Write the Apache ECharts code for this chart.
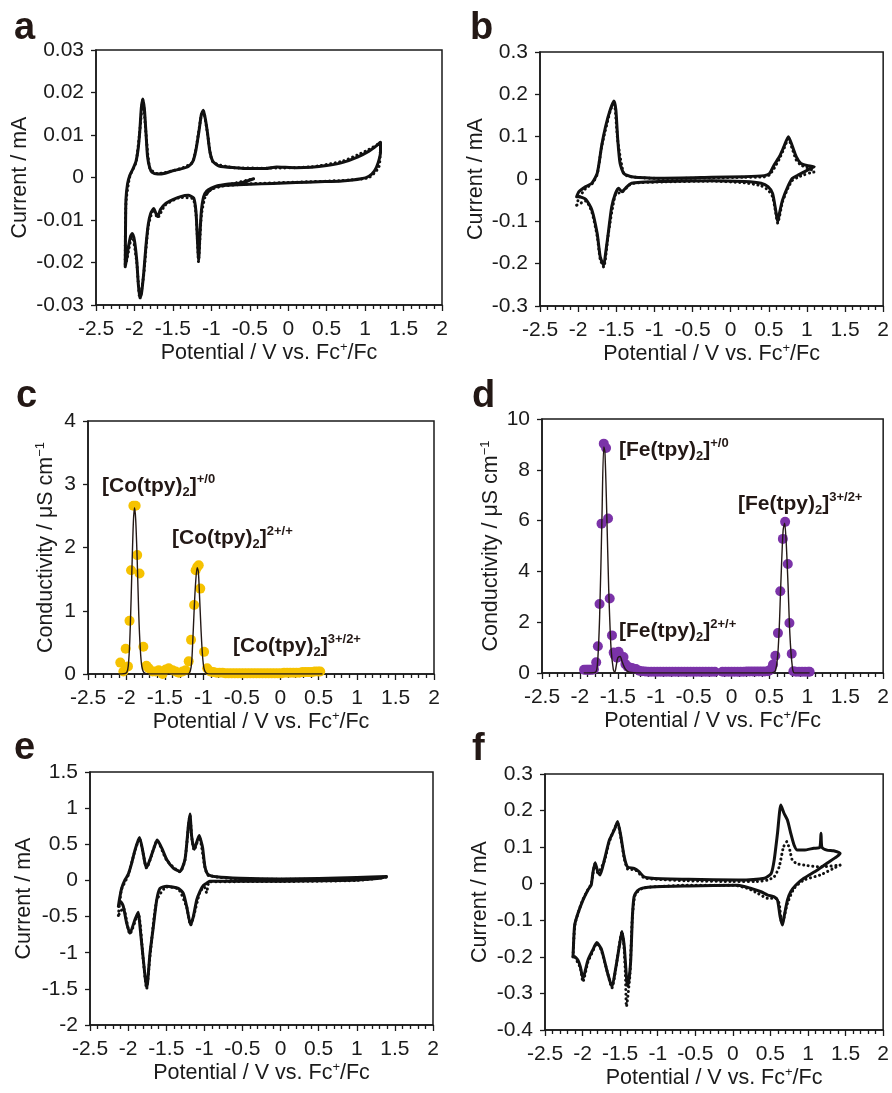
<!DOCTYPE html>
<html>
<head>
<meta charset="utf-8">
<script src="https://cdn.jsdelivr.net/npm/echarts@6.0.0/dist/echarts.min.js"></script>
<style>
html, body { margin: 0; padding: 0; background: #fff; }
#main { width: 892px; height: 1093px; }
</style>
</head>
<body>
<div id="main"></div>
<script>
// ---- data: [potential (V vs Fc+/Fc), current (mA) or conductivity (uS/cm)] ----

// a: [Co(tpy)2] CV
var cvA_solid = [[-0.45,-0.0003],[-0.6,-0.0012],[-0.8,-0.0016],[-0.93,-0.002],[-1.0,-0.0025],[-1.06,-0.0032],[-1.1,-0.0045],[-1.13,-0.008],[-1.15,-0.014],[-1.165,-0.0195],[-1.18,-0.015],[-1.2,-0.008],[-1.23,-0.0048],[-1.3,-0.0042],[-1.4,-0.0045],[-1.5,-0.0052],[-1.6,-0.0062],[-1.66,-0.0075],[-1.7,-0.0092],[-1.72,-0.0085],[-1.75,-0.0073],[-1.79,-0.0085],[-1.82,-0.011],[-1.85,-0.016],[-1.88,-0.0226],[-1.91,-0.0275],[-1.93,-0.0283],[-1.95,-0.025],[-1.97,-0.0195],[-2.0,-0.0148],[-2.03,-0.0132],[-2.05,-0.0138],[-2.08,-0.0165],[-2.1,-0.019],[-2.12,-0.021],
  [-2.115,-0.01],[-2.11,-0.005],[-2.09,-0.0015],[-2.06,0.0005],[-2.02,0.002],[-1.98,0.0038],[-1.95,0.007],[-1.93,0.011],[-1.91,0.0165],[-1.89,0.0185],[-1.87,0.016],[-1.85,0.0105],[-1.83,0.005],[-1.8,0.0022],[-1.77,0.0012],[-1.7,0.0008],[-1.6,0.001],[-1.5,0.0016],[-1.4,0.002],[-1.3,0.0026],[-1.24,0.0038],[-1.2,0.0065],[-1.16,0.011],[-1.13,0.0148],[-1.105,0.0158],[-1.08,0.014],[-1.05,0.0105],[-1.02,0.0062],[-0.98,0.0038],[-0.9,0.0027],[-0.7,0.0023],[-0.5,0.0021],[-0.3,0.0021],[-0.15,0.0025],[-0.05,0.0024],[0.1,0.0023],[0.3,0.0024],[0.5,0.0028],[0.7,0.0035],[0.9,0.0048],[1.05,0.0062],[1.15,0.0075],[1.2,0.0083],
  [1.2,0.006],[1.17,0.0035],[1.12,0.0015],[1.05,0.0003],[0.95,-0.0003],[0.7,-0.0008],[0.4,-0.001],[0.1,-0.0012],[-0.2,-0.0014],[-0.5,-0.0016],[-0.8,-0.0018],[-0.95,-0.0022],[-1.02,-0.003],[-1.07,-0.004]]
var cvA_dotted = [[-0.5,-0.0005],[-0.8,-0.0018],[-1.0,-0.0028],[-1.08,-0.0045],[-1.13,-0.009],[-1.15,-0.015],[-1.167,-0.0198],[-1.18,-0.015],[-1.2,-0.0085],[-1.24,-0.005],[-1.4,-0.0047],[-1.6,-0.0065],[-1.7,-0.0095],[-1.75,-0.0075],[-1.82,-0.0115],[-1.88,-0.023],[-1.93,-0.0285],[-1.97,-0.02],[-2.03,-0.0135],[-2.1,-0.0195],[-2.12,-0.0205],[-2.11,-0.006],[-2.06,0.0003],[-1.98,0.0036],[-1.93,0.011],[-1.89,0.0183],[-1.85,0.0103],[-1.8,0.0022],[-1.7,0.0009],[-1.4,0.0021],[-1.24,0.0037],[-1.13,0.0147],[-1.105,0.0157],[-1.05,0.0104],[-0.98,0.0037],[-0.7,0.0023],[-0.3,0.0022],[0.3,0.0025],[0.7,0.0038],[0.9,0.0053],[1.05,0.0066],[1.2,0.0082],[1.18,0.0025],[1.05,0.0],[0.7,-0.0007],[0.1,-0.0011],[-0.5,-0.0015],[-0.95,-0.0021]]

// b: [Fe(tpy)2] CV
var cvB_solid = [[-2.02,-0.042],[-1.99,-0.03],[-1.9,-0.018],[-1.82,-0.01],[-1.75,0.013],[-1.69,0.08],[-1.64,0.124],[-1.58,0.163],[-1.53,0.184],[-1.505,0.163],[-1.48,0.092],[-1.45,0.037],[-1.4,0.013],[-1.3,0.0055],[-0.9,0.002],[-0.25,0.004],[0.18,0.0055],[0.44,0.008],[0.51,0.013],[0.57,0.033],[0.64,0.053],[0.7,0.077],[0.757,0.1],[0.81,0.077],[0.86,0.053],[0.92,0.037],[1.0,0.032],[1.096,0.029],
  [1.05,0.025],[0.965,0.017],[0.88,0.009],[0.81,0.0016],[0.75,-0.018],[0.68,-0.05],[0.64,-0.081],[0.617,-0.101],[0.59,-0.073],[0.55,-0.034],[0.49,-0.018],[0.4,-0.01],[0.18,-0.006],[-0.25,-0.004],[-0.9,-0.006],[-1.3,-0.01],[-1.38,-0.022],[-1.425,-0.03],[-1.47,-0.022],[-1.51,-0.034],[-1.56,-0.066],[-1.6,-0.121],[-1.64,-0.176],[-1.665,-0.204],[-1.71,-0.184],[-1.75,-0.129],[-1.82,-0.073],[-1.9,-0.048],[-1.99,-0.042],[-2.02,-0.042]]
var cvB_dotted = [[-2.02,-0.062],[-1.99,-0.045],[-1.9,-0.022],[-1.82,-0.012],[-1.75,0.011],[-1.69,0.078],[-1.58,0.16],[-1.53,0.182],[-1.48,0.09],[-1.4,0.012],[-1.3,0.005],[-0.9,0.001],[0.18,0.004],[0.44,0.005],[0.51,0.01],[0.57,0.025],[0.64,0.048],[0.7,0.072],[0.757,0.095],[0.81,0.07],[0.86,0.045],[0.92,0.033],[1.0,0.027],[1.1,0.017],
  [1.05,0.015],[0.965,0.01],[0.88,0.004],[0.81,-0.003],[0.75,-0.022],[0.68,-0.054],[0.617,-0.104],[0.59,-0.078],[0.55,-0.042],[0.49,-0.026],[0.4,-0.016],[0.18,-0.009],[-0.25,-0.005],[-0.9,-0.007],[-1.3,-0.011],[-1.425,-0.031],[-1.51,-0.036],[-1.6,-0.125],[-1.665,-0.208],[-1.71,-0.19],[-1.75,-0.135],[-1.82,-0.078],[-1.9,-0.052],[-2.02,-0.062]]

// c: [Co(tpy)2] conductivity (points) and fitted curve
var coPoints = [[-2.08,0.18],[-2.04,0.04],[-2.01,0.40],[-1.98,0.12],[-1.96,0.84],[-1.94,1.64],[-1.91,2.66],[-1.88,2.66],[-1.86,1.88],[-1.83,1.59],[-1.78,0.43],[-1.74,0.13],[-1.71,0.09],[-1.66,0.04],[-1.62,0.04],[-1.58,0.06],[-1.53,0.00],[-1.49,0.07],[-1.45,0.09],[-1.40,0.06],[-1.36,0.04],[-1.32,0.02],[-1.27,0.04],[-1.23,0.06],[-1.19,0.20],[-1.16,0.54],[-1.12,1.09],[-1.10,1.64],[-1.08,1.69],[-1.06,1.72],[-1.04,1.35],[-0.99,0.35],[-0.95,0.09],[-0.91,0.04],
  [-0.87,0.03],[-0.83,0.02],[-0.79,0.02],[-0.75,0.02],[-0.71,0.01],[-0.67,0.01],[-0.63,0.01],[-0.59,0.01],[-0.55,0.01],[-0.51,0.01],[-0.47,0.01],[-0.43,0.01],[-0.39,0.01],[-0.35,0.01],[-0.31,0.01],[-0.27,0.01],[-0.23,0.01],[-0.19,0.01],[-0.15,0.01],[-0.11,0.01],[-0.07,0.01],[-0.03,0.01],[0.01,0.01],[0.05,0.02],[0.09,0.02],[0.13,0.02],[0.17,0.02],[0.21,0.02],[0.25,0.02],[0.29,0.03],[0.33,0.03],[0.37,0.03],[0.41,0.03],[0.45,0.04],[0.49,0.04],[0.52,0.04]]
var coFit = [[-2.1,0],[-2.0,0.02],[-1.97,0.22],[-1.95,0.75],[-1.93,1.6],[-1.91,2.4],[-1.895,2.63],[-1.88,2.45],[-1.86,1.8],[-1.84,0.95],[-1.82,0.4],[-1.8,0.12],[-1.77,0.02],[-1.7,0],[-1.2,0],[-1.16,0.1],[-1.14,0.45],[-1.12,1.0],[-1.1,1.45],[-1.08,1.68],[-1.065,1.62],[-1.05,1.25],[-1.03,0.7],[-1.01,0.28],[-0.99,0.08],[-0.96,0.01],[-0.9,0],[0.55,0]]

// d: [Fe(tpy)2] conductivity (points) and fitted curve
var fePoints = [[-1.945,0.13],[-1.92,0.13],[-1.90,0.13],[-1.88,0.13],[-1.86,0.13],[-1.835,0.13],[-1.815,0.15],[-1.785,0.42],[-1.763,1.05],[-1.741,2.72],[-1.715,5.88],[-1.685,9.03],[-1.655,8.86],[-1.629,6.08],[-1.607,2.93],[-1.577,1.48],[-1.555,0.81],[-1.54,0.7],[-1.525,0.79],[-1.51,0.6],[-1.49,0.84],[-1.475,0.7],[-1.46,0.66],[-1.425,0.63],[-1.40,0.35],[-1.37,0.25],[-1.347,0.22],[-1.32,0.2],[-1.30,0.18],[-1.26,0.16],[-1.217,0.09],[-1.18,0.07],[-1.14,0.06],
  [-1.10,0.05],[-1.06,0.05],[-1.02,0.05],[-0.98,0.05],[-0.94,0.05],[-0.90,0.05],[-0.86,0.05],[-0.82,0.05],[-0.78,0.05],[-0.74,0.05],[-0.70,0.05],[-0.66,0.05],[-0.62,0.05],[-0.58,0.05],[-0.54,0.05],[-0.50,0.05],[-0.46,0.05],[-0.42,0.05],[-0.38,0.05],[-0.34,0.05],[-0.30,0.05],[-0.26,0.05],[-0.22,0.05],
  [-0.12,0.05],[-0.08,0.05],[-0.04,0.05],[0.0,0.05],[0.04,0.05],[0.08,0.05],[0.12,0.05],[0.16,0.05],[0.20,0.06],[0.24,0.06],[0.28,0.06],[0.32,0.06],[0.36,0.06],[0.40,0.06],[0.44,0.06],[0.48,0.07],[0.50,0.1],[0.52,0.15],[0.547,0.33],[0.578,0.68],[0.612,1.57],[0.643,3.22],[0.677,5.28],[0.707,5.95],[0.742,4.29],[0.764,1.97],[0.794,0.76],[0.816,0.07],[0.85,0.05],[0.89,0.05],[0.93,0.05],[0.97,0.05],[1.01,0.05],[1.03,0.05]]
var feFit = [[-1.95,0],[-1.8,0.02],[-1.77,0.3],[-1.74,2.2],[-1.71,6.0],[-1.685,8.9],[-1.67,8.7],[-1.645,6.2],[-1.62,3.3],[-1.59,1.0],[-1.56,0.15],[-1.54,0.02],[-1.52,0.3],[-1.5,0.6],[-1.47,0.65],[-1.44,0.42],[-1.4,0.15],[-1.35,0.03],[-1.2,0],[0.5,0],[0.58,0.1],[0.62,1.2],[0.65,3.5],[0.68,5.6],[0.7,5.9],[0.72,5.2],[0.745,3.5],[0.77,1.5],[0.8,0.3],[0.83,0],[1.03,0]]

// e: mixed Co/Fe CV
var cvE_solid = [[-2.115,-0.27],[-2.085,-0.11],[-2.04,0.01],[-2.0,0.08],[-1.953,0.24],[-1.91,0.42],[-1.866,0.56],[-1.85,0.595],[-1.81,0.42],[-1.779,0.24],[-1.757,0.18],[-1.713,0.29],[-1.647,0.49],[-1.618,0.56],[-1.56,0.45],[-1.494,0.29],[-1.407,0.17],[-1.32,0.125],[-1.254,0.29],[-1.21,0.75],[-1.189,0.92],[-1.166,0.61],[-1.133,0.43],[-1.067,0.62],[-1.045,0.55],[-1.022,0.45],[-0.992,0.19],[-0.948,0.08],[-0.84,0.05],[-0.53,0.03],[0.0,0.02],[0.5,0.025],[1.0,0.04],[1.39,0.055],
  [1.3,0.03],[1.0,0.005],[0.5,-0.005],[0.0,-0.01],[-0.5,-0.01],[-0.93,-0.01],[-0.97,-0.04],[-1.013,-0.07],[-1.057,-0.15],[-1.1,-0.27],[-1.144,-0.5],[-1.18,-0.614],[-1.232,-0.36],[-1.276,-0.18],[-1.34,-0.11],[-1.494,-0.08],[-1.582,-0.11],[-1.625,-0.27],[-1.669,-0.64],[-1.713,-1.01],[-1.745,-1.42],[-1.757,-1.47],[-1.8,-1.1],[-1.844,-0.64],[-1.867,-0.44],[-1.91,-0.54],[-1.976,-0.73],[-2.019,-0.59],[-2.063,-0.36],[-2.098,-0.29],[-2.128,-0.36],[-2.115,-0.27]]
var cvE_dotted = [[-2.128,-0.485],[-2.11,-0.3],[-2.085,-0.12],[-2.0,0.07],[-1.91,0.41],[-1.85,0.58],[-1.81,0.41],[-1.757,0.17],[-1.713,0.28],[-1.618,0.55],[-1.494,0.28],[-1.32,0.12],[-1.254,0.28],[-1.189,0.9],[-1.166,0.6],[-1.133,0.42],[-1.067,0.6],[-0.992,0.18],[-0.948,0.07],[-0.53,0.02],[0.5,0.015],[1.0,0.03],[1.39,0.045],
  [1.0,0.0],[0.0,-0.015],[-0.93,-0.02],[-0.97,-0.17],[-1.0,-0.09],[-1.057,-0.16],[-1.144,-0.51],[-1.18,-0.62],[-1.232,-0.37],[-1.34,-0.12],[-1.494,-0.09],[-1.625,-0.28],[-1.713,-1.05],[-1.757,-1.5],[-1.8,-1.12],[-1.867,-0.46],[-1.976,-0.74],[-2.063,-0.38],[-2.128,-0.485]]

// f: mixed Co/Fe CV
var cvF_solid = [[-2.127,-0.2],[-2.118,-0.154],[-2.105,-0.113],[-2.061,-0.081],[-1.995,-0.045],[-1.929,-0.017],[-1.885,-0.004],[-1.864,0.028],[-1.833,0.057],[-1.798,0.033],[-1.767,0.024],[-1.71,0.065],[-1.644,0.119],[-1.578,0.147],[-1.534,0.17],[-1.49,0.129],[-1.446,0.074],[-1.403,0.046],[-1.315,0.042],[-1.249,0.033],[-1.183,0.019],[-1.073,0.015],[-0.59,0.012],[0.07,0.01],[0.42,0.015],[0.51,0.028],[0.55,0.065],[0.594,0.138],[0.638,0.215],[0.682,0.192],[0.726,0.174],[0.77,0.138],[0.814,0.106],[0.858,0.092],[0.945,0.092],[1.077,0.097],[1.156,0.099],[1.173,0.138],[1.185,0.1],[1.252,0.092],[1.34,0.09],[1.427,0.083],
  [1.384,0.074],[1.252,0.056],[1.12,0.037],[0.945,0.015],[0.836,-0.004],[0.77,-0.022],[0.726,-0.045],[0.682,-0.09],[0.66,-0.113],[0.629,-0.09],[0.594,-0.045],[0.55,-0.036],[0.463,-0.031],[0.375,-0.022],[0.244,-0.013],[0.07,-0.004],[-0.59,-0.006],[-1.03,-0.008],[-1.205,-0.012],[-1.27,-0.019],[-1.315,-0.036],[-1.337,-0.09],[-1.359,-0.209],[-1.381,-0.26],[-1.403,-0.28],[-1.425,-0.23],[-1.446,-0.17],[-1.477,-0.131],[-1.512,-0.172],[-1.556,-0.227],[-1.609,-0.282],[-1.666,-0.245],[-1.71,-0.209],[-1.754,-0.177],[-1.811,-0.161],[-1.864,-0.181],[-1.929,-0.209],[-1.973,-0.245],[-1.995,-0.259],[-2.03,-0.227],[-2.061,-0.209],[-2.105,-0.2],[-2.127,-0.2]]
var cvF_dotted = [[-2.127,-0.2],[-2.1,-0.11],[-2.0,-0.045],[-1.93,-0.017],[-1.885,0.0],[-1.833,0.055],[-1.798,0.03],[-1.71,0.062],[-1.644,0.115],[-1.534,0.165],[-1.49,0.125],[-1.446,0.07],[-1.4,0.04],[-1.3,0.038],[-1.18,0.016],[-1.0,0.012],[-0.6,0.008],[0.0,0.006],[0.3,0.006],[0.46,0.01],[0.55,0.019],[0.616,0.046],[0.673,0.1],[0.717,0.115],[0.76,0.09],[0.79,0.065],[0.85,0.055],[0.945,0.051],[1.164,0.046],[1.427,0.051],
  [1.34,0.042],[1.164,0.024],[0.945,0.01],[0.814,-0.013],[0.726,-0.054],[0.673,-0.099],[0.65,-0.108],[0.616,-0.054],[0.572,-0.04],[0.463,-0.04],[0.33,-0.026],[0.2,-0.013],[0.0,-0.004],[-0.6,-0.004],[-1.03,-0.008],[-1.2,-0.012],[-1.3,-0.03],[-1.34,-0.1],[-1.37,-0.25],[-1.416,-0.336],[-1.43,-0.25],[-1.45,-0.17],[-1.477,-0.131],[-1.52,-0.18],[-1.56,-0.235],[-1.609,-0.285],[-1.666,-0.245],[-1.754,-0.18],[-1.811,-0.163],[-1.864,-0.185],[-1.93,-0.215],[-1.995,-0.268],[-2.03,-0.23],[-2.105,-0.2]]

// y axis ranges [min, max, interval] and names, panels a..f
var yRanges = [[-0.03, 0.03, 0.01], [-0.3, 0.3, 0.1], [0, 4, 1], [0, 10, 2], [-2, 1.5, 0.5], [-0.4, 0.3, 0.1]]
var yNames = ['Current / mA', 'Current / mA', 'Conductivity / μS cm{sup|−1}', 'Conductivity / μS cm{sup|−1}', 'Current / mA', 'Current / mA']
var yNameGaps = [63, 48, 30, 37, 54, 53]
var panelLetters = ['a', 'b', 'c', 'd', 'e', 'f']

var FONT = '"Liberation Sans", Arial, sans-serif'
var INK = '#1a1a1a'
var YELLOW = '#f6c200'
var PURPLE = '#7b33a8'

var grids = [
    { left: 96, top: 50, width: 346, height: 255 },
    { left: 540, top: 52, width: 345, height: 254 },
    { left: 88, top: 421, width: 346, height: 253 },
    { left: 542, top: 419, width: 346, height: 254 },
    { left: 90, top: 772, width: 343, height: 253 },
    { left: 545, top: 774, width: 342, height: 256 }
]
// panel letter [x, baseline]
var letterPos = [[14, 42], [470, 42], [16, 410], [472, 410], [14, 762], [472, 763]]

function make_grid(g) {
    return {
        left: g.left, top: g.top, width: g.width, height: g.height,
        show: true, borderColor: INK, borderWidth: 1.5, backgroundColor: 'transparent'
    }
}

function make_xaxis(i) {
    return {
        type: 'value', gridIndex: i, min: -2.5, max: 2, interval: 0.5,
        name: 'Potential / V vs. Fc{sup|+}/Fc',
        nameLocation: 'middle', nameGap: 33,
        nameTextStyle: {
            fontFamily: FONT, fontSize: 21.5, color: INK, lineHeight: 24,
            rich: { sup: { fontFamily: FONT, fontSize: 13, color: INK, lineHeight: 12, verticalAlign: 'top' } }
        },
        axisLine: { show: true, onZero: false, lineStyle: { color: INK, width: 1.5 } },
        axisTick: { show: true, length: 6, lineStyle: { color: INK, width: 1.3 } },
        minorTick: { show: true, splitNumber: 5, length: 4, lineStyle: { color: INK, width: 1.3 } },
        axisLabel: { fontFamily: FONT, fontSize: 21, color: INK, margin: 14, showMinLabel: true, showMaxLabel: true },
        splitLine: { show: false }
    }
}

function make_yaxis(i) {
    var r = yRanges[i]
    return {
        type: 'value', gridIndex: i, min: r[0], max: r[1], interval: r[2],
        name: yNames[i], nameLocation: 'middle', nameGap: yNameGaps[i], nameRotate: 90,
        nameTextStyle: {
            fontFamily: FONT, fontSize: 21.5, color: INK, lineHeight: 24,
            rich: { sup: { fontFamily: FONT, fontSize: 13, color: INK, lineHeight: 12, verticalAlign: 'top' } }
        },
        axisLine: { show: true, onZero: false, lineStyle: { color: INK, width: 1.5 } },
        axisTick: { show: true, length: 5, lineStyle: { color: INK, width: 1.3 } },
        axisLabel: { fontFamily: FONT, fontSize: 21, color: INK, margin: 12, showMinLabel: true, showMaxLabel: true },
        splitLine: { show: false }
    }
}

function cv_series(i, solid, dotted) {
    return [{
        type: 'line', xAxisIndex: i, yAxisIndex: i, data: dotted,
        symbol: 'none', smooth: 0.2, z: 2, silent: true,
        lineStyle: { color: '#111', width: 3, type: [0.1, 4.5], cap: 'round' }
    }, {
        type: 'line', xAxisIndex: i, yAxisIndex: i, data: solid,
        symbol: 'none', smooth: 0.2, z: 3, silent: true,
        lineStyle: { color: '#111', width: 3, join: 'round', cap: 'round' }
    }]
}

function cond_series(i, points, fit, color) {
    return [{
        type: 'scatter', xAxisIndex: i, yAxisIndex: i, data: points,
        symbol: 'circle', symbolSize: 10, z: 2, silent: true,
        itemStyle: { color: color, opacity: 1 }
    }, {
        type: 'line', xAxisIndex: i, yAxisIndex: i, data: fit,
        symbol: 'none', smooth: 0.3, z: 3, silent: true,
        lineStyle: { color: '#231815', width: 1.4 }
    }]
}

// complex label like [Co(tpy)2]^+/0 ; baseline given in px
function complex_label(x, baseline, metal, charge) {
    return {
        type: 'text', x: x, y: baseline - 7,
        style: {
            text: '{m|[' + metal + '(tpy)}{s|2}{m|]}{p|' + charge + '}',
            align: 'left', verticalAlign: 'middle',
            rich: {
                m: { fontFamily: FONT, fontWeight: 'bold', fontSize: 21, fill: '#231815', lineHeight: 26 },
                s: { fontFamily: FONT, fontWeight: 'bold', fontSize: 13, fill: '#231815', lineHeight: 14, verticalAlign: 'bottom' },
                p: { fontFamily: FONT, fontWeight: 'bold', fontSize: 13, fill: '#231815', lineHeight: 14, verticalAlign: 'top' }
            }
        }
    }
}

var chart = echarts.init(document.getElementById('main'), null, { renderer: 'canvas' })

var series = []
series = series.concat(cv_series(0, cvA_solid, cvA_dotted))
series = series.concat(cv_series(1, cvB_solid, cvB_dotted))
series = series.concat(cond_series(2, coPoints, coFit, YELLOW))
series = series.concat(cond_series(3, fePoints, feFit, PURPLE))
series = series.concat(cv_series(4, cvE_solid, cvE_dotted))
series = series.concat(cv_series(5, cvF_solid, cvF_dotted))

var graphics = []
letterPos.forEach(function(p, i) {
    graphics.push({
        type: 'text', x: p[0], y: p[1] - 13,
        style: { text: panelLetters[i], font: 'bold 38px ' + FONT, fill: '#231815', align: 'left', verticalAlign: 'middle' }
    })
})
graphics.push(complex_label(102, 493, 'Co', '+/0'))
graphics.push(complex_label(172, 545, 'Co', '2+/+'))
graphics.push(complex_label(233, 653, 'Co', '3+/2+'))
graphics.push(complex_label(619, 457, 'Fe', '+/0'))
graphics.push(complex_label(738, 511, 'Fe', '3+/2+'))
graphics.push(complex_label(619, 638, 'Fe', '2+/+'))

chart.setOption({
    animation: false,
    backgroundColor: '#fff',
    grid: grids.map(make_grid),
    xAxis: grids.map(function(g, i) { return make_xaxis(i) }),
    yAxis: grids.map(function(g, i) { return make_yaxis(i) }),
    series: series,
    graphic: graphics
})
</script>
</body>
</html>
